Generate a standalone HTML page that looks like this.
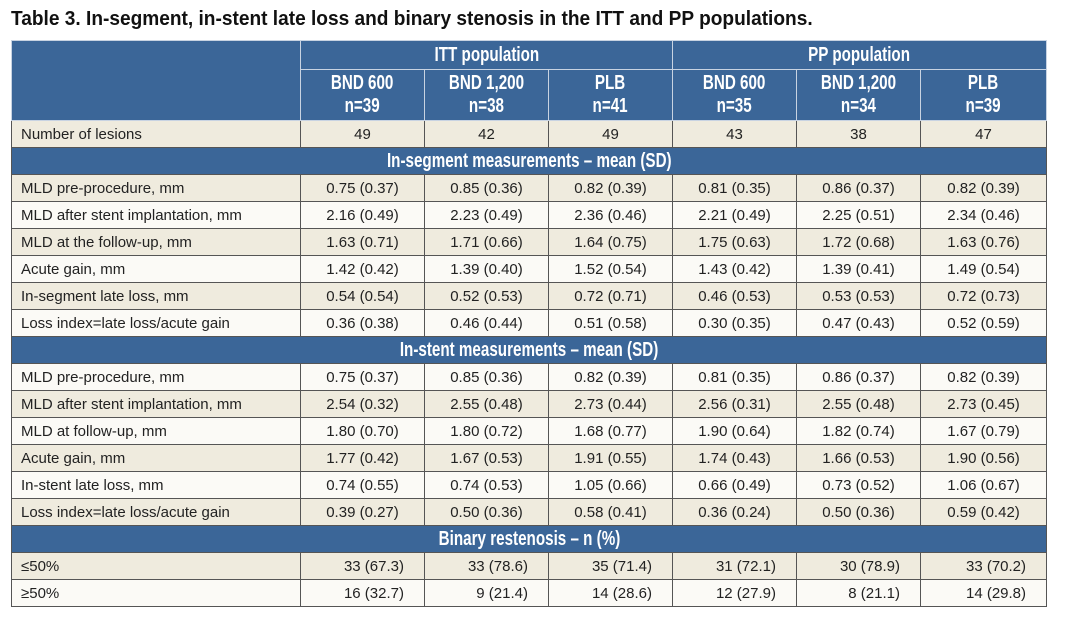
<!DOCTYPE html>
<html><head><meta charset="utf-8"><style>
body{margin:0;background:#fff;width:1068px;height:621px;overflow:hidden;position:relative;font-family:"Liberation Sans",sans-serif;}
.t{position:absolute;left:11px;top:8px;font-weight:bold;font-size:20px;color:#111;transform:scaleX(0.955);transform-origin:left top;white-space:nowrap;}
table{position:absolute;left:11px;top:40px;border-collapse:collapse;table-layout:fixed;width:1035px;}
td{border:1px solid #555;padding:0;font-size:15px;color:#222;height:26px;text-align:center;white-space:nowrap;overflow:hidden;}
td.l{text-align:left;padding-left:9px;}
td.r{text-align:right;padding-right:20px;}
tr.b td{background:#efebde;}
tr.w td{background:#fbfaf6;}
.h td{background:#3b6698;color:#fff;font-weight:bold;font-size:20px;border-color:#c8d3e2;}
tr.s td{background:#3b6698;color:#fff;font-weight:bold;font-size:20px;height:26px;border-color:#555;}
.n{display:inline-block;transform:scaleX(0.76);white-space:nowrap;}
.h2 td{line-height:23px;height:50px;}
</style></head><body>
<div class="t">Table 3. In-segment, in-stent late loss and binary stenosis in the ITT and PP populations.</div>
<table>
<colgroup><col style="width:289px"><col style="width:124px"><col style="width:124px"><col style="width:124px"><col style="width:124px"><col style="width:124px"><col style="width:126px"></colgroup>
<tr class="h"><td rowspan="2"></td><td colspan="3" style="height:28px"><span class="n">ITT population</span></td><td colspan="3"><span class="n">PP population</span></td></tr>
<tr class="h h2"><td><span class="n">BND 600<br>n=39</span></td><td><span class="n">BND 1,200<br>n=38</span></td><td><span class="n">PLB<br>n=41</span></td><td><span class="n">BND 600<br>n=35</span></td><td><span class="n">BND 1,200<br>n=34</span></td><td><span class="n">PLB<br>n=39</span></td></tr>
<tr class="b"><td class="l">Number of lesions</td><td>49</td><td>42</td><td>49</td><td>43</td><td>38</td><td>47</td></tr>
<tr class="s"><td colspan="7"><span class="n">In-segment measurements – mean (SD)</span></td></tr>
<tr class="b"><td class="l">MLD pre-procedure, mm</td><td>0.75 (0.37)</td><td>0.85 (0.36)</td><td>0.82 (0.39)</td><td>0.81 (0.35)</td><td>0.86 (0.37)</td><td>0.82 (0.39)</td></tr>
<tr class="w"><td class="l">MLD after stent implantation, mm</td><td>2.16 (0.49)</td><td>2.23 (0.49)</td><td>2.36 (0.46)</td><td>2.21 (0.49)</td><td>2.25 (0.51)</td><td>2.34 (0.46)</td></tr>
<tr class="b"><td class="l">MLD at the follow-up, mm</td><td>1.63 (0.71)</td><td>1.71 (0.66)</td><td>1.64 (0.75)</td><td>1.75 (0.63)</td><td>1.72 (0.68)</td><td>1.63 (0.76)</td></tr>
<tr class="w"><td class="l">Acute gain, mm</td><td>1.42 (0.42)</td><td>1.39 (0.40)</td><td>1.52 (0.54)</td><td>1.43 (0.42)</td><td>1.39 (0.41)</td><td>1.49 (0.54)</td></tr>
<tr class="b"><td class="l">In-segment late loss, mm</td><td>0.54 (0.54)</td><td>0.52 (0.53)</td><td>0.72 (0.71)</td><td>0.46 (0.53)</td><td>0.53 (0.53)</td><td>0.72 (0.73)</td></tr>
<tr class="w"><td class="l">Loss index=late loss/acute gain</td><td>0.36 (0.38)</td><td>0.46 (0.44)</td><td>0.51 (0.58)</td><td>0.30 (0.35)</td><td>0.47 (0.43)</td><td>0.52 (0.59)</td></tr>
<tr class="s"><td colspan="7"><span class="n">In-stent measurements – mean (SD)</span></td></tr>
<tr class="w"><td class="l">MLD pre-procedure, mm</td><td>0.75 (0.37)</td><td>0.85 (0.36)</td><td>0.82 (0.39)</td><td>0.81 (0.35)</td><td>0.86 (0.37)</td><td>0.82 (0.39)</td></tr>
<tr class="b"><td class="l">MLD after stent implantation, mm</td><td>2.54 (0.32)</td><td>2.55 (0.48)</td><td>2.73 (0.44)</td><td>2.56 (0.31)</td><td>2.55 (0.48)</td><td>2.73 (0.45)</td></tr>
<tr class="w"><td class="l">MLD at follow-up, mm</td><td>1.80 (0.70)</td><td>1.80 (0.72)</td><td>1.68 (0.77)</td><td>1.90 (0.64)</td><td>1.82 (0.74)</td><td>1.67 (0.79)</td></tr>
<tr class="b"><td class="l">Acute gain, mm</td><td>1.77 (0.42)</td><td>1.67 (0.53)</td><td>1.91 (0.55)</td><td>1.74 (0.43)</td><td>1.66 (0.53)</td><td>1.90 (0.56)</td></tr>
<tr class="w"><td class="l">In-stent late loss, mm</td><td>0.74 (0.55)</td><td>0.74 (0.53)</td><td>1.05 (0.66)</td><td>0.66 (0.49)</td><td>0.73 (0.52)</td><td>1.06 (0.67)</td></tr>
<tr class="b"><td class="l">Loss index=late loss/acute gain</td><td>0.39 (0.27)</td><td>0.50 (0.36)</td><td>0.58 (0.41)</td><td>0.36 (0.24)</td><td>0.50 (0.36)</td><td>0.59 (0.42)</td></tr>
<tr class="s"><td colspan="7"><span class="n">Binary restenosis – n (%)</span></td></tr>
<tr class="b"><td class="l">≤50%</td><td class="r">33 (67.3)</td><td class="r">33 (78.6)</td><td class="r">35 (71.4)</td><td class="r">31 (72.1)</td><td class="r">30 (78.9)</td><td class="r">33 (70.2)</td></tr>
<tr class="w"><td class="l">≥50%</td><td class="r">16 (32.7)</td><td class="r">9 (21.4)</td><td class="r">14 (28.6)</td><td class="r">12 (27.9)</td><td class="r">8 (21.1)</td><td class="r">14 (29.8)</td></tr>
</table>
</body></html>
